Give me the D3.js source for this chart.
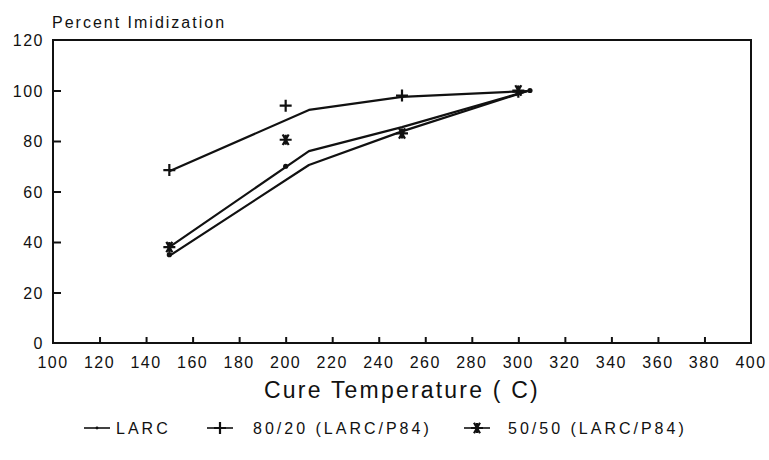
<!DOCTYPE html>
<html>
<head>
<meta charset="utf-8">
<script src="https://cdn.jsdelivr.net/npm/d3@7/dist/d3.min.js"></script>
<style>
  html, body { margin: 0; padding: 0; background: #fff; }
  svg text { font-family: "Liberation Sans", Arial, sans-serif; fill: #111; }
</style>
</head>
<body>
<svg id="chart" width="769" height="460"></svg>
<script>
// Measured imidization (%) at each cure temperature (C)
const cureTemps   = [150, 200, 250, 300];
const larcTemps   = [150, 200, 250, 305];
const larcPts     = [35, 70, 83.5, 100];
const mix8020Pts  = [68.5, 94, 98, 99.5];
const mix5050Pts  = [38, 80.5, 83, 100];

// Fit curves drawn through each series
const fitTemps    = [150, 210, 250, 304];
const larcFit     = [34.5, 70.5, 83.8, 99.8];
const mix8020Fit  = [68, 92.3, 97.5, 99.8];
const mix5050Fit  = [38, 76, 85.5, 99.8];

// Axis ticks
const xTicks = [100, 120, 140, 160, 180, 200, 220, 240, 260, 280, 300, 320, 340, 360, 380, 400];
const yTicks = [0, 20, 40, 60, 80, 100, 120];

const seriesNames = ["LARC", "80/20 (LARC/P84)", "50/50 (LARC/P84)"];

const svg = d3.select("#chart");
const plotL = 53, plotR = 751, plotT = 40, plotB = 343;

const x = d3.scaleLinear().domain([100, 400]).range([plotL, plotR]);
const y = d3.scaleLinear().domain([0, 120]).range([plotB, plotT]);

const ink = "#111";

// Frame
svg.append("rect")
  .attr("x", plotL).attr("y", plotT)
  .attr("width", plotR - plotL).attr("height", plotB - plotT)
  .attr("fill", "none").attr("stroke", ink).attr("stroke-width", 2);

// Inward ticks on the bottom axis
const xAxis = d3.axisBottom(x).tickValues(xTicks.slice(1, -1)).tickSizeInner(-6).tickSizeOuter(0).tickFormat("");
const gx = svg.append("g").attr("transform", `translate(0,${plotB})`).call(xAxis);
gx.select(".domain").remove();
gx.selectAll(".tick line").attr("stroke", ink).attr("stroke-width", 2);

// Inward ticks on the left axis
const yAxis = d3.axisLeft(y).tickValues(yTicks.slice(1, -1)).tickSizeInner(-8).tickSizeOuter(0).tickFormat("");
const gy = svg.append("g").attr("transform", `translate(${plotL},0)`).call(yAxis);
gy.select(".domain").remove();
gy.selectAll(".tick line").attr("stroke", ink).attr("stroke-width", 2);

// Tick labels
svg.append("g").selectAll("text").data(xTicks).join("text")
  .attr("x", d => x(d)).attr("y", 368)
  .attr("text-anchor", "middle")
  .style("font-size", "16px").style("letter-spacing", "1.5px")
  .text(d => d);

svg.append("g").selectAll("text").data(yTicks).join("text")
  .attr("x", plotL - 9).attr("y", d => y(d) + 6)
  .attr("text-anchor", "end")
  .style("font-size", "16px").style("letter-spacing", "1.5px")
  .text(d => d);

// Axis titles
svg.append("text").attr("x", 52).attr("y", 28)
  .style("font-size", "16px").style("letter-spacing", "2px")
  .text("Percent Imidization");

svg.append("text").attr("x", (plotL + plotR) / 2).attr("y", 398)
  .attr("text-anchor", "middle")
  .style("font-size", "23px").style("letter-spacing", "2.2px")
  .text("Cure Temperature ( C)");

// Fit curves
const line = d3.line().x(d => x(d[0])).y(d => y(d[1]));
[larcFit, mix8020Fit, mix5050Fit].forEach(vals => {
  svg.append("path")
    .datum(fitTemps.map((t, i) => [t, vals[i]]))
    .attr("d", line)
    .attr("fill", "none").attr("stroke", ink).attr("stroke-width", 2.2)
    .attr("stroke-linejoin", "round");
});

// Marker glyphs
function dot(g, cx, cy) {
  g.append("circle").attr("cx", cx).attr("cy", cy).attr("r", 2.6).attr("fill", ink);
}
function plus(g, cx, cy) {
  g.append("path").attr("d", `M${cx - 6},${cy}H${cx + 6}M${cx},${cy - 6}V${cy + 6}`)
    .attr("stroke", ink).attr("stroke-width", 2.2);
}
function star(g, cx, cy) {
  let d = `M${cx - 6},${cy}H${cx + 6}`;
  [60, 120].forEach(a => {
    const r = a * Math.PI / 180, dx = 6 * Math.cos(r), dy = 6 * Math.sin(r);
    d += `M${cx - dx},${cy - dy}L${cx + dx},${cy + dy}`;
  });
  d += `M${cx},${cy - 5}V${cy + 5}`;
  g.append("path").attr("d", d).attr("stroke", ink).attr("stroke-width", 2.2);
}

const marks = svg.append("g");
larcTemps.forEach((t, i) => dot(marks, x(t), y(larcPts[i])));
cureTemps.forEach((t, i) => plus(marks, x(t), y(mix8020Pts[i])));
cureTemps.forEach((t, i) => star(marks, x(t), y(mix5050Pts[i])));

// Legend
const legendY = 428;
const legendItems = [
  { name: seriesNames[0], x0: 84, gap: 6, glyph: dot },
  { name: seriesNames[1], x0: 207, gap: 20, glyph: plus },
  { name: seriesNames[2], x0: 464, gap: 18, glyph: star }
];
legendItems.forEach(it => {
  const g = svg.append("g");
  g.append("line").attr("x1", it.x0).attr("x2", it.x0 + 26)
    .attr("y1", legendY).attr("y2", legendY)
    .attr("stroke", ink).attr("stroke-width", 1.6);
  it.glyph === dot
    ? g.append("circle").attr("cx", it.x0 + 13).attr("cy", legendY).attr("r", 1.4).attr("fill", ink)
    : it.glyph(g, it.x0 + 13, legendY);
  g.append("text").attr("x", it.x0 + 26 + it.gap).attr("y", legendY + 6)
    .style("font-size", "16px").style("letter-spacing", "3px")
    .text(it.name);
});
</script>
</body>
</html>
